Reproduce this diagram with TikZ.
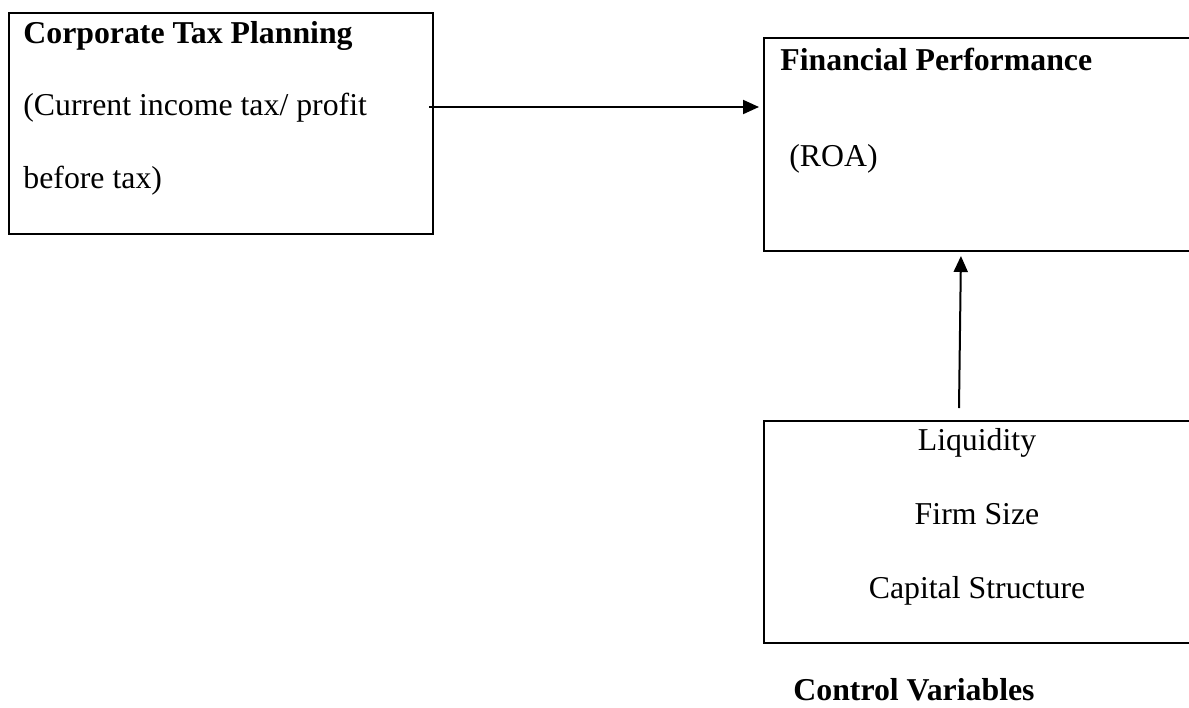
\documentclass[tikz,border=0pt]{standalone}
\usepackage{fontspec}
\setmainfont{Liberation Serif}
\usetikzlibrary{arrows.meta}

\begin{document}
\begin{tikzpicture}[x=0.5pt, y=-0.5pt,
  var box/.style={rectangle, draw, line width=1pt, inner sep=0pt},
  box text/.style={inner sep=0pt, font=\fontsize{15.9pt}{18pt}\selectfont},
  bold text/.style={box text, font=\fontsize{15.9pt}{18pt}\selectfont\bfseries},
  link/.style={-{Triangle[length=8pt, width=7pt]}, line width=1pt, shorten >=2pt}]

  \clip (0,0) rectangle (1189,707);

  % boxes
  \node[var box, minimum width=212pt, minimum height=110.5pt] (tax) at (221,123.5) {};
  \node[var box, minimum width=218pt, minimum height=106.5pt] (fin) at (982,144.5) {};
  \node[var box, minimum width=218pt, minimum height=111pt] (ctrl) at (982,532) {};

  % texts
  \node[bold text, anchor=base west] (t0) at (23,43) {Corporate Tax Planning};
  \node[box text, anchor=base west] (t1) at (23,115) {(Current income tax/ profit};
  \node[box text, anchor=base west] (t2) at (23,188) {before tax)};
  \node[bold text, anchor=base west] (f0) at (780,70) {Financial Performance};
  \node[box text, anchor=base west] (f1) at (789,166) {(ROA)};
  \node[box text, anchor=base] (c0) at (977,450) {Liquidity};
  \node[box text, anchor=base] (c1) at (977,524) {Firm Size};
  \node[box text, anchor=base] (c2) at (977,598) {Capital Structure};
  \node[bold text, anchor=base west] (cv) at (793,700) {Control Variables};

  % arrows
  \coordinate (a0) at (429,107);
  \coordinate (a1) at (959,408);
  \draw[link] (a0) -- (a0 -| fin.west);
  \draw[link] (a1) -- ([xshift=-10.5pt]fin.south);

\end{tikzpicture}
\end{document}
